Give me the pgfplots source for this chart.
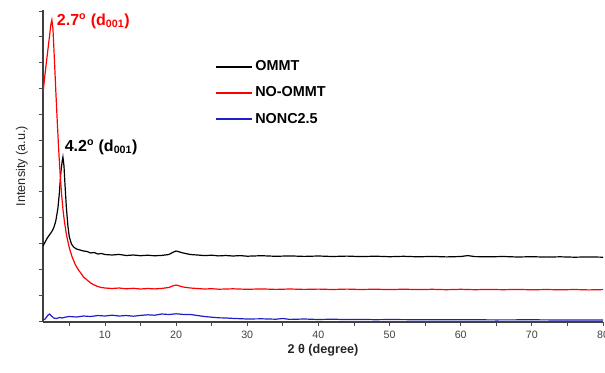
\documentclass[border=0pt]{standalone}
\usepackage{pgfplots}
\pgfplotsset{compat=1.18}
\usepackage{fontspec}
\setmainfont{Liberation Sans}
\definecolor{nblue}{RGB}{30,30,200}
\begin{document}
\begin{tikzpicture}
\begin{axis}[
  at={(0,0)}, anchor=south west,
  scale only axis, width=420pt, height=234pt,
  xmin=1.3, xmax=80, ymin=-1, ymax=311,
  axis x line*=bottom, axis y line*=left,
  axis line style={draw=black!75, line width=0.8pt},
  xtick={10,20,...,80},
  minor xtick={5,15,...,75},
  ytick={0,25.83,...,310}, yticklabels={},
  tick align=outside,
  major tick length=3pt, minor tick length=3pt,
  y tick style={draw=black!70, line width=0.6pt},
  x tick style={draw=black!70, line width=0.6pt},
  tick label style={font=\fontsize{8}{9}\selectfont, text=black!75},
  /pgf/number format/assume math mode=true,
  xlabel={\textbf{2 θ (degree)}},
  ylabel={Intensity (a.u.)},
  label style={font=\fontsize{9.5}{11}\selectfont, text=black!85},
  xlabel style={yshift=2pt},
  ylabel style={yshift=-2pt},
  legend style={draw=none, fill=none, at={(0.3,0.855)}, anchor=north west,
    font=\bfseries\fontsize{10.8}{12}\selectfont, row sep=6.5pt,
    /tikz/every even column/.append style={column sep=5pt}},
  legend cell align=left,
  legend image code/.code={\draw[#1, line width=1pt] (0cm,0cm) -- (0.95cm,0cm);},
]
\addplot[black, line width=0.9pt] coordinates {
(1.3,75) (1.6,79) (1.9,83) (2.2,86) (2.5,89) (2.8,93) (3.1,100) (3.4,113) (3.6,128) (3.8,148) (4.0,160) (4.1,164) (4.25,155) (4.4,135) (4.6,112) (4.8,95) (5.0,84) (5.3,77) (5.6,74) (6.0,72) (6.5,71) (7,70) (7.5,69.5) (8,68) (8.5,68.5) (9,67) (9.5,67.5) (10,66.5) (11,66) (12,66.6) (13,65.5) (14,66) (15,65.3) (16,65.8) (17,65.2) (18,65.6) (19,66.5) (19.5,68.5) (20,70) (20.5,69) (21,68) (22,66.5) (23,66) (24,65.4) (25,65.8) (26,65.1) (27,65.5) (28,65) (29,65.4) (30,64.8) (32,65.3) (34,64.7) (36,65.1) (38,64.6) (40,65) (42,64.5) (44,64.9) (46,64.4) (48,64.8) (50,64.3) (52,64.7) (54,64.2) (56,64.6) (58,64.1) (60,64.5) (61,65.4) (62,64.4) (64,64.2) (66,64.5) (68,64) (70,64.3) (72,63.9) (74,64.2) (76,63.8) (78,64.1) (80,63.8)
};
\addlegendentry{OMMT}
\addplot[red, line width=0.9pt] coordinates {
(1.3,228) (1.6,248) (1.9,266) (2.2,284) (2.4,296) (2.55,301) (2.7,292) (2.9,262) (3.1,230) (3.3,200) (3.5,172) (3.7,148) (3.9,128) (4.1,112) (4.3,100) (4.6,86) (5.0,73) (5.4,64) (5.8,57) (6.2,52) (6.6,48) (7.0,44) (7.5,41) (8,38) (8.5,36) (9,34.5) (9.5,33.5) (10,33) (11,32.5) (12,33) (13,32.2) (14,32.7) (15,32) (16,32.5) (17,32.1) (18,32.6) (19,33.5) (19.5,35) (20,36) (20.5,35) (21,34) (22,33) (23,32.5) (24,32) (25,32.3) (26,31.8) (28,32.2) (30,31.7) (32,32.1) (34,31.6) (36,32) (38,31.6) (40,31.9) (42,31.5) (44,31.9) (46,31.5) (48,31.8) (50,31.4) (52,31.8) (54,31.4) (56,31.7) (58,31.3) (60,31.7) (62,31.3) (64,31.6) (66,31.3) (68,31.6) (70,31.2) (72,31.5) (74,31.2) (76,31.5) (78,31.1) (80,31.4)
};
\addlegendentry{NO-OMMT}
\addplot[nblue, line width=0.9pt] coordinates {
(1.3,1) (1.6,2) (1.9,5) (2.2,7) (2.5,5) (2.8,3) (3.2,2.5) (3.6,3.5) (4,3) (4.5,4) (5,4.5) (6,4) (7,5) (8,4.5) (9,5.5) (10,5) (11,5.8) (12,5) (13,5.5) (14,4.8) (15,5.6) (16,6.2) (17,5.8) (18,7) (19,6.5) (20,7.2) (21,6.6) (22,6.5) (23,5.5) (24,4.5) (25,3.8) (26,3.2) (27,3) (28,2.6) (29,2.3) (30,2) (32,2.2) (34,1.8) (35,2.5) (36,1.6) (38,2) (40,1.5) (42,1.8) (44,1.4) (46,1.6) (48,1.3) (50,1.5) (55,1.2) (60,1.3) (65,1.1) (70,1.2) (75,1) (80,1.1)
};
\addlegendentry{NONC2.5}
\node[anchor=west, text=red, font=\bfseries\fontsize{12}{14}\selectfont] at (axis cs:2.6,300) {2.7\textsuperscript{o} (d\textsubscript{001})};
\node[anchor=west, text=black, font=\bfseries\fontsize{12}{14}\selectfont] at (axis cs:3.7,174) {4.2\textsuperscript{o} (d\textsubscript{001})};
\end{axis}
\pgfresetboundingbox
\path[use as bounding box] (-32.25pt,-37.5pt) rectangle (421.5pt,241.5pt);
\end{tikzpicture}
\end{document}
